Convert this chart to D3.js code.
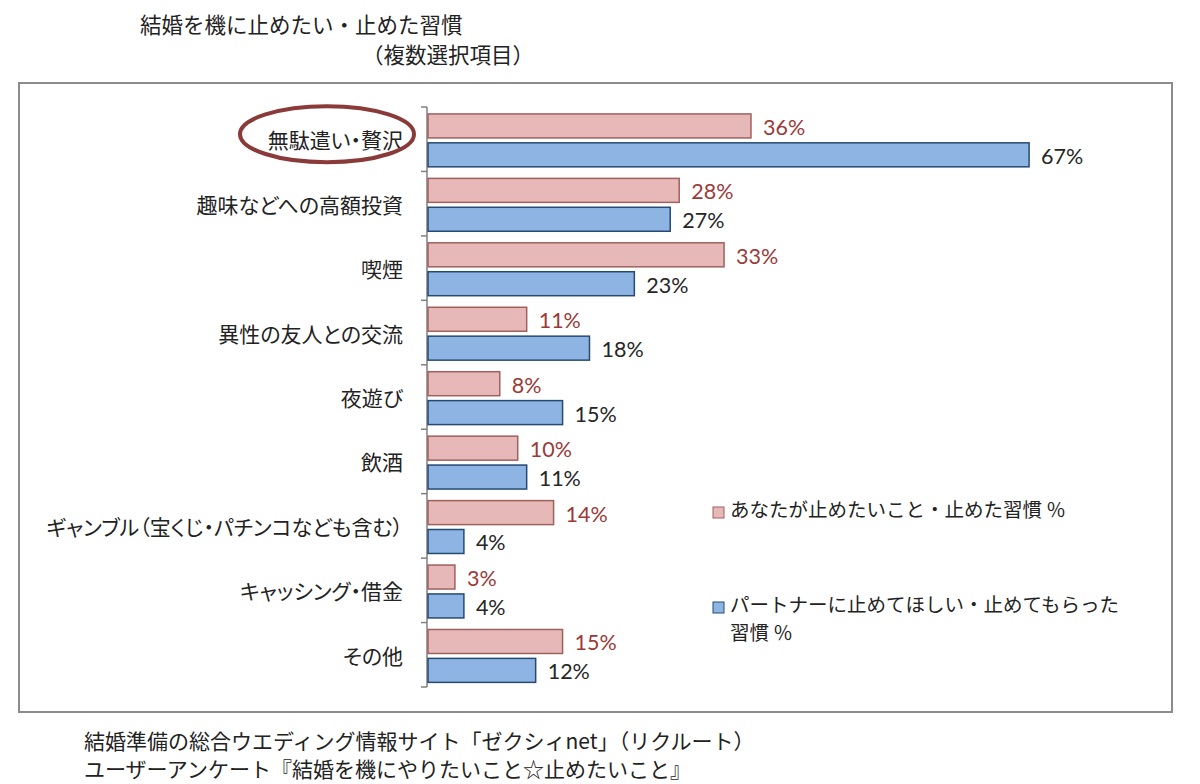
<!DOCTYPE html>
<html>
<head>
<meta charset="utf-8">
<script src="https://cdn.jsdelivr.net/npm/d3@7"></script>
<style>
  body { margin: 0; background: #fff; }
  .palt { font-feature-settings: "palt"; }
</style>
</head>
<body>
<div id="chart"></div>
<script>
const categories = [
  "無駄遣い・贅沢",
  "趣味などへの高額投資",
  "喫煙",
  "異性の友人との交流",
  "夜遊び",
  "飲酒",
  "ギャンブル（宝くじ・パチンコなども含む）",
  "キャッシング・借金",
  "その他"
];
const selfValues = [36, 28, 33, 11, 8, 10, 14, 3, 15];
const partnerValues = [67, 27, 23, 18, 15, 11, 4, 4, 12];
const seriesKeys = ["self", "partner"];
const seriesNames = [
  ["あなたが止めたいこと・止めた習慣 ％"],
  ["パートナーに止めてほしい・止めてもらった", "習慣 ％"]
];

const width = 1200, height = 784;
const jp = "'Noto Sans CJK JP', sans-serif";
const num = "Lato, 'Open Sans', sans-serif";
const fills = { self: "#e6b9b8", partner: "#8db4e2" };
const strokes = { self: "#a0605e", partner: "#274a73" };
const labelColors = { self: "#9b3a38", partner: "#262626" };

const svg = d3.select("#chart").append("svg")
  .attr("width", width).attr("height", height);

// title
svg.append("text").attr("x", 140).attr("y", 23)
  .attr("dominant-baseline", "central")
  .style("font-family", jp).style("font-size", "21.5px").style("fill", "#222")
  .text("結婚を機に止めたい・止めた習慣");
svg.append("text").attr("x", 362).attr("y", 53)
  .attr("dominant-baseline", "central")
  .style("font-family", jp).style("font-size", "21.5px").style("fill", "#222")
  .text("（複数選択項目）");

// frame
svg.append("rect").attr("x", 19).attr("y", 83)
  .attr("width", 1153).attr("height", 629)
  .attr("fill", "none").attr("stroke", "#8c8c8c").attr("stroke-width", 2);

const x = d3.scaleLinear().domain([0, 70]).range([428, 1056]);
const y = d3.scaleBand().domain(categories).range([107, 687]);
const ySub = d3.scaleBand().domain(seriesKeys).range([0, y.bandwidth()])
  .paddingInner(0.17).paddingOuter(0.2).align(0.6);

const rows = categories.map((c, i) => ({ cat: c, self: selfValues[i], partner: partnerValues[i] }));

// axis line with ticks between categories
const axisX = 427;
svg.append("line").attr("x1", axisX).attr("x2", axisX)
  .attr("y1", y.range()[0]).attr("y2", y.range()[1])
  .attr("stroke", "#808080").attr("stroke-width", 1.5);
const tickYs = categories.map(c => y(c)).concat([y.range()[1]]);
svg.selectAll(".tick").data(tickYs).enter().append("line")
  .attr("x1", axisX - 6).attr("x2", axisX)
  .attr("y1", d => d).attr("y2", d => d)
  .attr("stroke", "#808080").attr("stroke-width", 1.5);

// category labels
svg.selectAll(".cat").data(categories).enter().append("text")
  .attr("class", "palt")
  .attr("x", 403).attr("y", d => y(d) + y.bandwidth() / 2)
  .attr("text-anchor", "end").attr("dominant-baseline", "central")
  .style("font-family", jp).style("font-size", "21px").style("fill", "#222")
  .text(d => d);

// highlight ellipse
svg.append("ellipse")
  .attr("cx", 327).attr("cy", y(categories[0]) + y.bandwidth() / 2 - 5)
  .attr("rx", 87).attr("ry", 28)
  .attr("fill", "none").attr("stroke", "#8b3a3a").attr("stroke-width", 4);

// bars
const groups = svg.selectAll(".row").data(rows).enter().append("g")
  .attr("transform", d => `translate(0,${y(d.cat)})`);

seriesKeys.forEach(k => {
  groups.append("rect")
    .attr("x", x(0)).attr("y", ySub(k))
    .attr("width", d => x(d[k]) - x(0)).attr("height", ySub.bandwidth())
    .attr("fill", fills[k]).attr("stroke", strokes[k]).attr("stroke-width", 1.5);
  groups.append("text")
    .attr("x", d => x(d[k]) + 12).attr("y", ySub(k) + ySub.bandwidth() / 2 + 1)
    .attr("dominant-baseline", "central")
    .style("font-family", num).style("font-size", "21.5px").style("fill", labelColors[k])
    .text(d => d[k] + "%");
});

// legend
const legendY = [507, 602];
seriesKeys.forEach((k, i) => {
  svg.append("rect").attr("x", 713).attr("y", legendY[i])
    .attr("width", 11).attr("height", 11)
    .attr("fill", fills[k]).attr("stroke", strokes[k]).attr("stroke-width", 1);
  seriesNames[i].forEach((line, j) => {
    svg.append("text").attr("x", 730).attr("y", legendY[i] + 1 + j * 28)
      .attr("dominant-baseline", "central")
      .style("font-family", jp).style("font-size", "19.5px").style("fill", "#222")
      .text(line);
  });
});

// source notes
const notes = [
  "結婚準備の総合ウエディング情報サイト「ゼクシィnet」（リクルート）",
  "ユーザーアンケート『結婚を機にやりたいこと☆止めたいこと』"
];
svg.selectAll(".note").data(notes).enter().append("text")
  .attr("x", 84).attr("y", (d, i) => 740 + i * 28)
  .attr("dominant-baseline", "central")
  .style("font-family", jp).style("font-size", "21px").style("fill", "#222")
  .text(d => d);
</script>
</body>
</html>
